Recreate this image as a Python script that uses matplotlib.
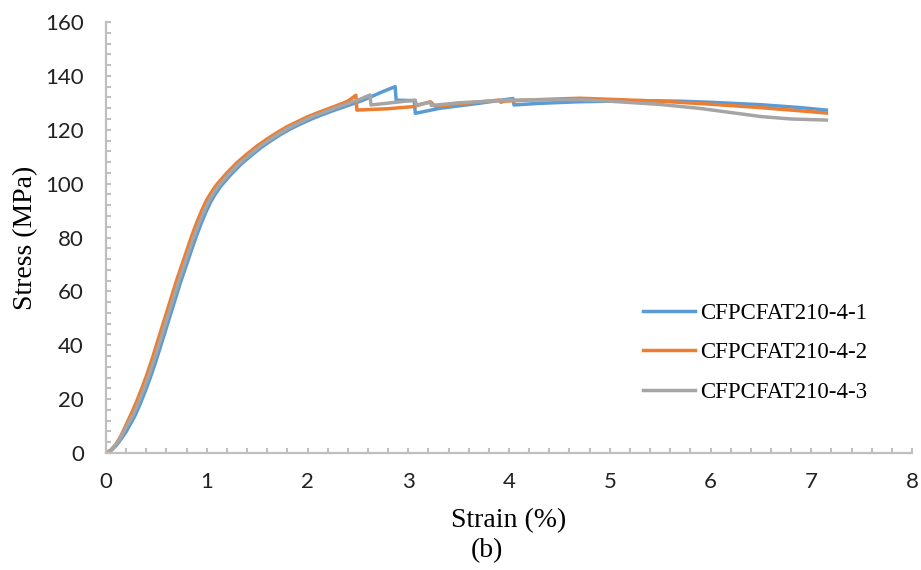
import matplotlib
matplotlib.use('Agg')
import matplotlib.pyplot as plt
from matplotlib.ticker import MultipleLocator

# ===== Data =====
labels = ['CFPCFAT210-4-1', 'CFPCFAT210-4-2', 'CFPCFAT210-4-3']
colors = ['#5b9bd5', '#ed7d31', '#a5a5a5']

strain_1 = [0, 0.05, 0.1, 0.15, 0.2, 0.24, 0.29, 0.34, 0.39, 0.44, 0.49, 0.54, 0.59, 0.64, 0.69,
            0.74, 0.79, 0.84, 0.89, 0.94, 0.99, 1.04, 1.09, 1.14, 1.24, 1.34, 1.44, 1.54, 1.64,
            1.74, 1.84, 1.94, 2.04, 2.14, 2.24, 2.34, 2.44, 2.54, 2.64, 2.75, 2.87,
            2.88, 3.06, 3.07, 3.32, 3.7, 4.04, 4.05, 4.3, 4.7, 5.3, 5.7, 6.0, 6.5, 6.9, 7.15]
stress_1 = [0, 0.9, 2.7, 5.2, 7.9, 10.6, 14, 18.3, 23, 28, 33.5, 39.4, 45.4, 51.4, 57.4,
            63.4, 68.9, 74.4, 79.8, 84.8, 89.3, 93.3, 96.4, 99.1, 103.4, 107.2, 110.4, 113.4, 116,
            118.4, 120.5, 122.3, 124, 125.5, 126.9, 128.2, 129.5, 130.8, 132.4, 134.2, 136,
            131, 130.8, 126.1, 128, 129.8, 131.6, 129.2, 129.8, 130.4, 130.8, 130.6, 130.2, 129.3, 128.2, 127.3]

strain_2 = [0, 0.05, 0.1, 0.15, 0.2, 0.25, 0.3, 0.35, 0.4, 0.45, 0.5, 0.55, 0.6, 0.65,
            0.7, 0.75, 0.8, 0.85, 0.9, 0.95, 1.0, 1.05, 1.1, 1.2, 1.3, 1.4, 1.5, 1.6,
            1.7, 1.8, 1.9, 2.0, 2.1, 2.2, 2.3, 2.4, 2.48,
            2.49, 2.8, 3.05, 3.22, 3.27, 3.5, 3.9, 3.92, 3.95, 4.3, 4.7,
            5.0, 5.5, 6.0, 6.5, 6.9, 7.15]
stress_2 = [0, 1.2, 3.3, 6.5, 10.5, 14.5, 18.8, 23.5, 28.5, 34, 40, 46, 52, 58,
            64, 69.5, 75, 80.5, 85.5, 90, 94, 97, 99.7, 104, 107.8, 111, 114, 116.6,
            119, 121.2, 123, 124.8, 126.3, 127.7, 129.1, 130.6, 132.8,
            127.3, 127.8, 128.6, 130.4, 128.6, 129.6, 131, 130.2, 130.6, 131.2, 131.7,
            131.3, 130.6, 129.5, 128.2, 127, 126.2]

strain_3 = [0, 0.05, 0.1, 0.15, 0.2, 0.27, 0.32, 0.37, 0.42, 0.47, 0.52, 0.57, 0.62, 0.67,
            0.72, 0.77, 0.82, 0.87, 0.92, 0.97, 1.02, 1.07, 1.12, 1.22, 1.32, 1.42, 1.52, 1.62,
            1.72, 1.82, 1.92, 2.02, 2.12, 2.22, 2.32, 2.42, 2.52, 2.62,
            2.63, 3.07, 3.08, 3.22, 3.23, 3.5, 4.0, 4.7, 5.0, 5.5, 5.9,
            6.2, 6.5, 6.8, 7.15]
stress_3 = [0, 1, 3.1, 6, 9.6, 14.2, 18.5, 23.2, 28.2, 33.7, 39.6, 45.6, 51.6, 57.6,
            63.6, 69.1, 74.6, 80, 85, 89.5, 93.5, 96.6, 99.3, 103.6, 107.4, 110.6, 113.6, 116.2,
            118.6, 120.8, 122.6, 124.4, 125.9, 127.3, 128.7, 130, 131.3, 132.9,
            129.2, 131, 129.2, 130.2, 129, 130, 131, 131.2, 130.6, 129.4, 127.9,
            126.4, 124.9, 124, 123.6]

series = [(strain_1, stress_1), (strain_2, stress_2), (strain_3, stress_3)]

serif = ['Liberation Serif', 'DejaVu Serif']
axis_grey = '#bfbfbf'

fig = plt.figure(figsize=(9.21, 5.70), dpi=100)
ax = fig.add_axes([106 / 921, 1 - 453 / 570, (912 - 106) / 921, (453 - 22) / 570])

for (x, y), lab, c in zip(series, labels, colors):
    ax.plot(x, y, color=c, linewidth=2.5, label=lab, solid_joinstyle='round')

ax.set_xlim(0, 8)
ax.set_ylim(0, 160)
ax.xaxis.set_major_locator(MultipleLocator(1))
ax.xaxis.set_minor_locator(MultipleLocator(0.2))
ax.yaxis.set_major_locator(MultipleLocator(20))
ax.yaxis.set_minor_locator(MultipleLocator(4))

for side in ['top', 'right']:
    ax.spines[side].set_visible(False)
for side in ['left', 'bottom']:
    ax.spines[side].set_color(axis_grey)
    ax.spines[side].set_linewidth(1.6)

ax.tick_params(which='both', direction='in', length=3.8, width=1.5, color=axis_grey)
ax.tick_params(axis='x', which='major', pad=14, labelsize=16, labelcolor='#222222')
ax.tick_params(axis='y', which='major', pad=16, labelsize=16, labelcolor='#222222')
for t in ax.get_xticklabels() + ax.get_yticklabels():
    t.set_fontfamily(['Lato', 'DejaVu Sans'])

ax.set_xlabel('Strain (%)', fontsize=20, family=serif, labelpad=11)
ax.set_ylabel('Stress (MPa)', fontsize=20, family=serif, labelpad=5)
fig.text(487 / 921, 1 - 551 / 570, '(b)', fontsize=20, family=serif, ha='center', va='center')

ax.legend(loc='upper left', bbox_to_anchor=(643 / 921, 1 - 303 / 570), bbox_transform=fig.transFigure,
          frameon=False, borderpad=0, borderaxespad=0, handlelength=2.25, handletextpad=0.25,
          labelspacing=0.8, prop={'family': serif, 'size': 16.5})

fig.savefig('out.png', dpi=100)
